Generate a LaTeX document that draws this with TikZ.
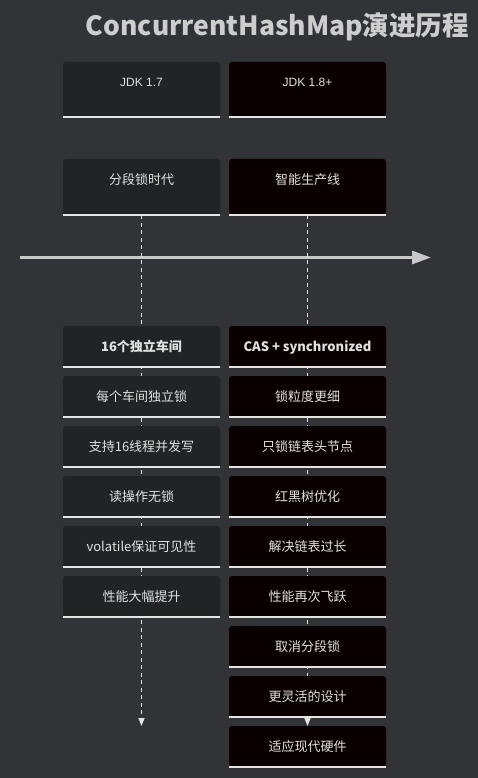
\documentclass[tikz,border=0pt]{standalone}
\usepackage{fontspec}
\setmainfont{Noto Sans CJK SC}
\newfontfamily\jdkfont{Liberation Sans}
\usetikzlibrary{arrows.meta,positioning,backgrounds}
\definecolor{chmBg}{RGB}{50,51,55}
\definecolor{chmOld}{RGB}{33,35,36}
\definecolor{chmNew}{RGB}{10,0,0}
\definecolor{chmBar}{RGB}{228,228,228}
\definecolor{chmText}{RGB}{225,225,225}
\definecolor{chmAxis}{RGB}{200,200,200}
\definecolor{chmTitle}{RGB}{205,205,205}
\tikzset{
  box/.style={rectangle,rounded corners=3pt,minimum width=157pt,inner sep=0pt,
              text=chmText,font=\fontsize{13}{15}\selectfont},
  headbox/.style={box,minimum height=55pt,text height=8.6pt,text depth=14pt,
                  font=\jdkfont\fontsize{12}{14}\selectfont},
  secbox/.style={box,minimum height=56pt,text height=10pt,text depth=15pt},
  evbox/.style={box,minimum height=41pt,text height=10pt,text depth=0pt},
  bar/.style={draw=chmBar,line width=2.5pt},
  dashline/.style={draw=chmBar,line width=1.4pt,dash pattern=on 4pt off 3.5pt,
                   -{Triangle[length=8pt,width=6pt]}},
  axis/.style={draw=chmAxis,line width=3pt,-{Triangle[length=19pt,width=13pt]}}
}
\begin{document}
\begin{tikzpicture}[x=1pt,y=-1pt]
\useasboundingbox (0,0) rectangle (478,778);
\begin{scope}[on background layer]
  \fill[chmBg] (0,0) rectangle (478,778);
\end{scope}

\node[anchor=east,text=chmTitle,font=\bfseries\fontsize{26.5}{30}\selectfont]
  (title) at (472.5,27) {ConcurrentHashMap演进历程};

% periods
\node[headbox,fill=chmOld] (jdk17) at (141.5,89.5) {JDK 1.7};
\node[headbox,fill=chmNew] (jdk18) at (307.5,89.5) {JDK 1.8+};
\node[secbox,fill=chmOld] (sec17) at (141.5,187) {分段锁时代};
\node[secbox,fill=chmNew] (sec18) at (307.5,187) {智能生产线};
\foreach \n in {jdk17,jdk18,sec17,sec18}
  \draw[bar] (\n.south west) -- (\n.south east);

% events
\foreach \lbl [count=\i] in {\textbf{16个独立车间},每个车间独立锁,支持16线程并发写,
    读操作无锁,volatile保证可见性,性能大幅提升}
{
  \pgfmathsetmacro{\y}{346.5+50*(\i-1)}
  \node[evbox,fill=chmOld] (old\i) at (141.5,\y) {\lbl};
  \draw[bar] (old\i.south west) -- (old\i.south east);
}
\foreach \lbl [count=\i] in {\textbf{CAS + synchronized},锁粒度更细,只锁链表头节点,
    红黑树优化,解决链表过长,性能再次飞跃,取消分段锁,更灵活的设计,适应现代硬件}
{
  \pgfmathsetmacro{\y}{346.5+50*(\i-1)}
  \node[evbox,fill=chmNew] (new\i) at (307.5,\y) {\lbl};
  \draw[bar] (new\i.south west) -- (new\i.south east);
}

% timeline
\coordinate (axStart) at (20,257.5);
\coordinate (axEnd) at (431,257.5);
\coordinate (end17) at (141.5,726);
\coordinate (end18) at (307.5,726);
\begin{scope}[on background layer]
  \draw[axis] (axStart) -- (axEnd);
  \draw[dashline] (sec17.south) -- (end17);
  \draw[dashline] (sec18.south) -- (end18);
\end{scope}
\end{tikzpicture}
\end{document}
